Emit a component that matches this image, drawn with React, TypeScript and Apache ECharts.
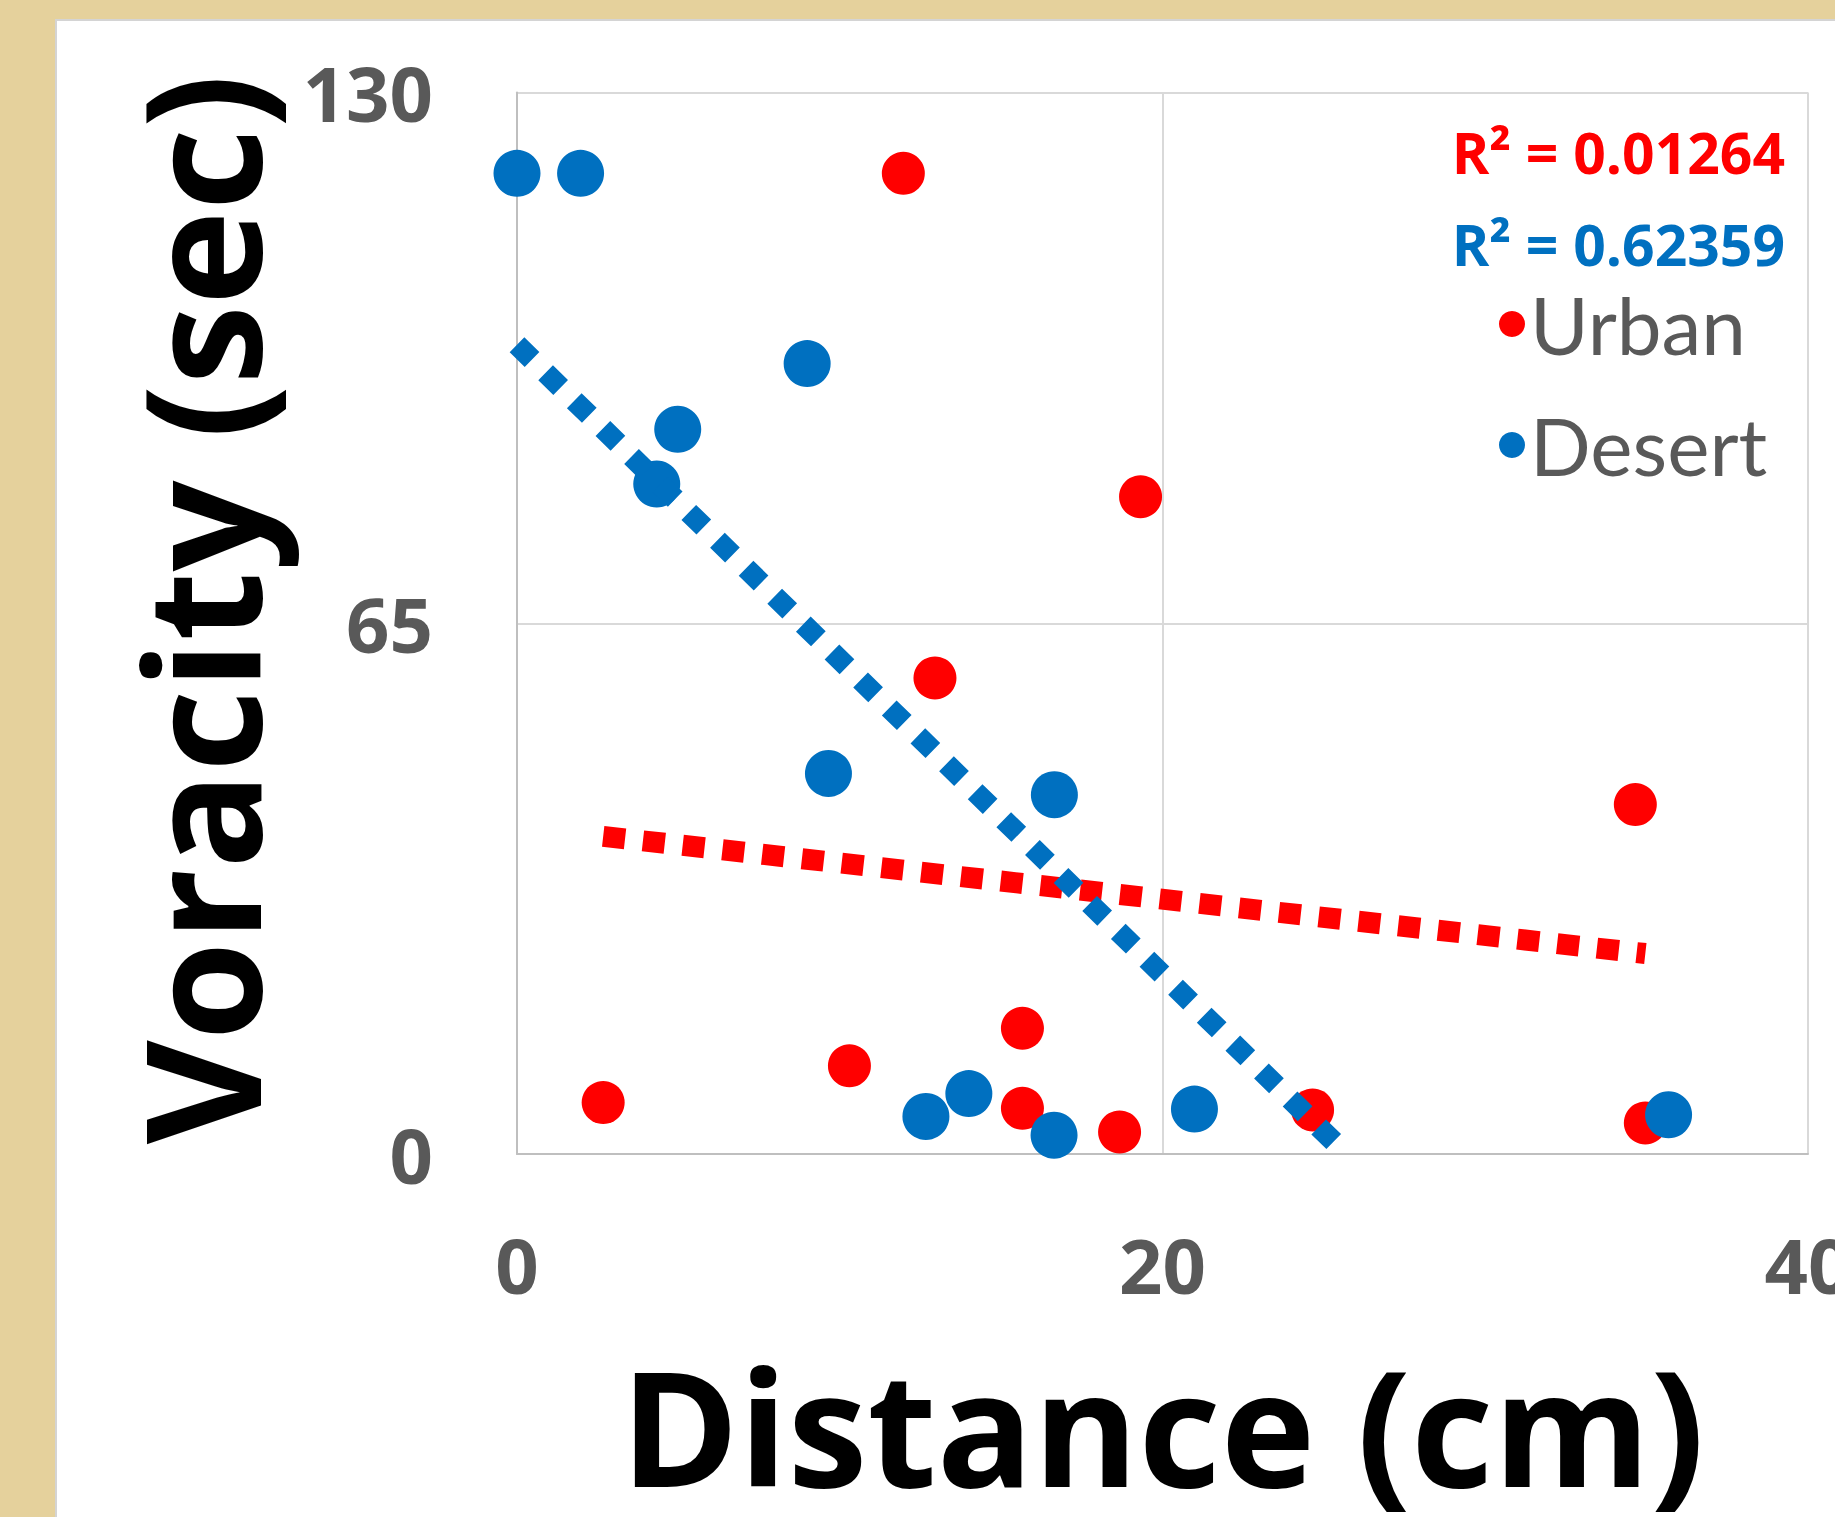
import React, { useEffect, useRef } from "react";
import * as echarts from "echarts";

// ---- data ----
const xTicks = [0, 20, 40];
const yTicks = [0, 65, 130];

const urbanDistance = [2.67, 10.3, 11.97, 12.95, 15.66, 15.66, 18.67, 19.32, 24.65, 34.65, 34.96];
const urbanVoracity = [6.3, 10.8, 120.1, 58.3, 15.4, 5.6, 2.7, 80.5, 5.4, 42.8, 3.8];

const desertDistance = [0, 1.97, 4.33, 4.98, 8.99, 9.65, 12.67, 14.0, 16.64, 16.65, 20.99, 35.68];
const desertVoracity = [120.1, 120.1, 82.05, 88.75, 96.8, 46.6, 4.6, 7.4, 2.3, 44.0, 5.5, 4.8];

// linear trend lines (end points as drawn in the reference, clipped at the plot area)
const urbanTrendX = [2.67, 34.96];
const urbanTrendY = [38.9, 24.55];
const desertTrendX = [0, 25.7];
const desertTrendY = [99.1, 0];

const urbanR2 = "R² = 0.01264";
const desertR2 = "R² = 0.62359";
const seriesNames = ["Urban", "Desert"];

const zip = (xs: number[], ys: number[]) => xs.map((x, i) => [x, ys[i]]);

const W = 1835;
const H = 1517;

export default function App() {
  const ref = useRef<HTMLDivElement>(null);

  useEffect(() => {
    if (!ref.current) return;
    const chart = echarts.init(ref.current, undefined, { renderer: "svg" });
    const tickLabel = {
      fontFamily: "Open Sans",
      fontWeight: "bold" as const,
      fontSize: 76,
      color: "#595959",
    };
    const option = {
      animation: false,
      backgroundColor: "#E5D19C",
      graphic: [
        {
          type: "rect",
          z: -10,
          shape: { x: 56, y: 20, width: W - 56 + 10, height: H - 20 + 10 },
          style: { fill: "#FFFFFF", stroke: "#D4D4D4", lineWidth: 2 },
        },
        {
          type: "text",
          z: 100,
          x: 1785,
          y: 152,
          style: {
            text: urbanR2,
            fill: "#FF0000",
            font: "bold 57px 'Open Sans'",
            textAlign: "right",
            textVerticalAlign: "middle",
          },
        },
        {
          type: "text",
          z: 100,
          x: 1785,
          y: 244,
          style: {
            text: desertR2,
            fill: "#0070C0",
            font: "bold 57px 'Open Sans'",
            textAlign: "right",
            textVerticalAlign: "middle",
          },
        },
      ],
      legend: {
        data: seriesNames,
        orient: "vertical",
        left: 1494,
        top: 279,
        icon: "circle",
        itemWidth: 26,
        itemHeight: 26,
        itemGap: 41,
        textStyle: { fontFamily: "Lato", fontSize: 80, color: "#595959", lineHeight: 80 },
      },
      grid: {
        left: 517,
        right: W - 1808,
        top: 92.5,
        bottom: H - 1154,
        containLabel: false,
        outerBoundsMode: "none",
      },
      xAxis: {
        type: "value",
        min: xTicks[0],
        max: xTicks[xTicks.length - 1],
        interval: xTicks[1] - xTicks[0],
        name: "Distance (cm)",
        nameLocation: "middle",
        nameGap: 191,
        nameTextStyle: { fontFamily: "Open Sans", fontWeight: "bold", fontSize: 160, color: "#000000" },
        axisLine: { show: true, lineStyle: { color: "#BFBFBF", width: 2 } },
        axisTick: { show: false },
        axisLabel: { ...tickLabel, margin: 72 },
        splitLine: { show: true, lineStyle: { color: "#D9D9D9", width: 2 } },
      },
      yAxis: {
        type: "value",
        min: yTicks[0],
        max: yTicks[yTicks.length - 1],
        interval: yTicks[1] - yTicks[0],
        name: "Voracity (sec)",
        nameLocation: "middle",
        nameGap: 238,
        nameTextStyle: {
          fontFamily: "Open Sans",
          fontWeight: "bold",
          fontSize: 160,
          color: "#000000",
          padding: [0, 0, 0, 28],
        },
        axisLine: { show: true, lineStyle: { color: "#BFBFBF", width: 2 } },
        axisTick: { show: false },
        axisLabel: { ...tickLabel, margin: 84 },
        splitLine: { show: true, lineStyle: { color: "#D9D9D9", width: 2 } },
      },
      series: [
        {
          name: seriesNames[0],
          type: "scatter",
          data: zip(urbanDistance, urbanVoracity),
          symbol: "circle",
          symbolSize: 43,
          itemStyle: { color: "#FF0000", opacity: 1 },
          z: 2,
        },
        {
          name: seriesNames[1],
          type: "scatter",
          data: zip(desertDistance, desertVoracity),
          symbol: "circle",
          symbolSize: 47,
          itemStyle: { color: "#0070C0", opacity: 1 },
          z: 3,
        },
        {
          name: "Urban trend",
          type: "line",
          data: zip(urbanTrendX, urbanTrendY),
          symbol: "none",
          showSymbol: false,
          silent: true,
          clip: true,
          lineStyle: { color: "#FF0000", width: 21, type: [22, 18], cap: "butt" },
          z: 4,
        },
        {
          name: "Desert trend",
          type: "line",
          data: zip(desertTrendX, desertTrendY),
          symbol: "none",
          showSymbol: false,
          silent: true,
          clip: true,
          lineStyle: { color: "#0070C0", width: 21, type: [21, 19], cap: "butt" },
          z: 5,
        },
      ],
    };
    chart.setOption(option as any);
    return () => chart.dispose();
  }, []);

  return (
    <div
      ref={ref}
      style={{ position: "fixed", left: 0, top: 0, width: W, height: H }}
    />
  );
}
